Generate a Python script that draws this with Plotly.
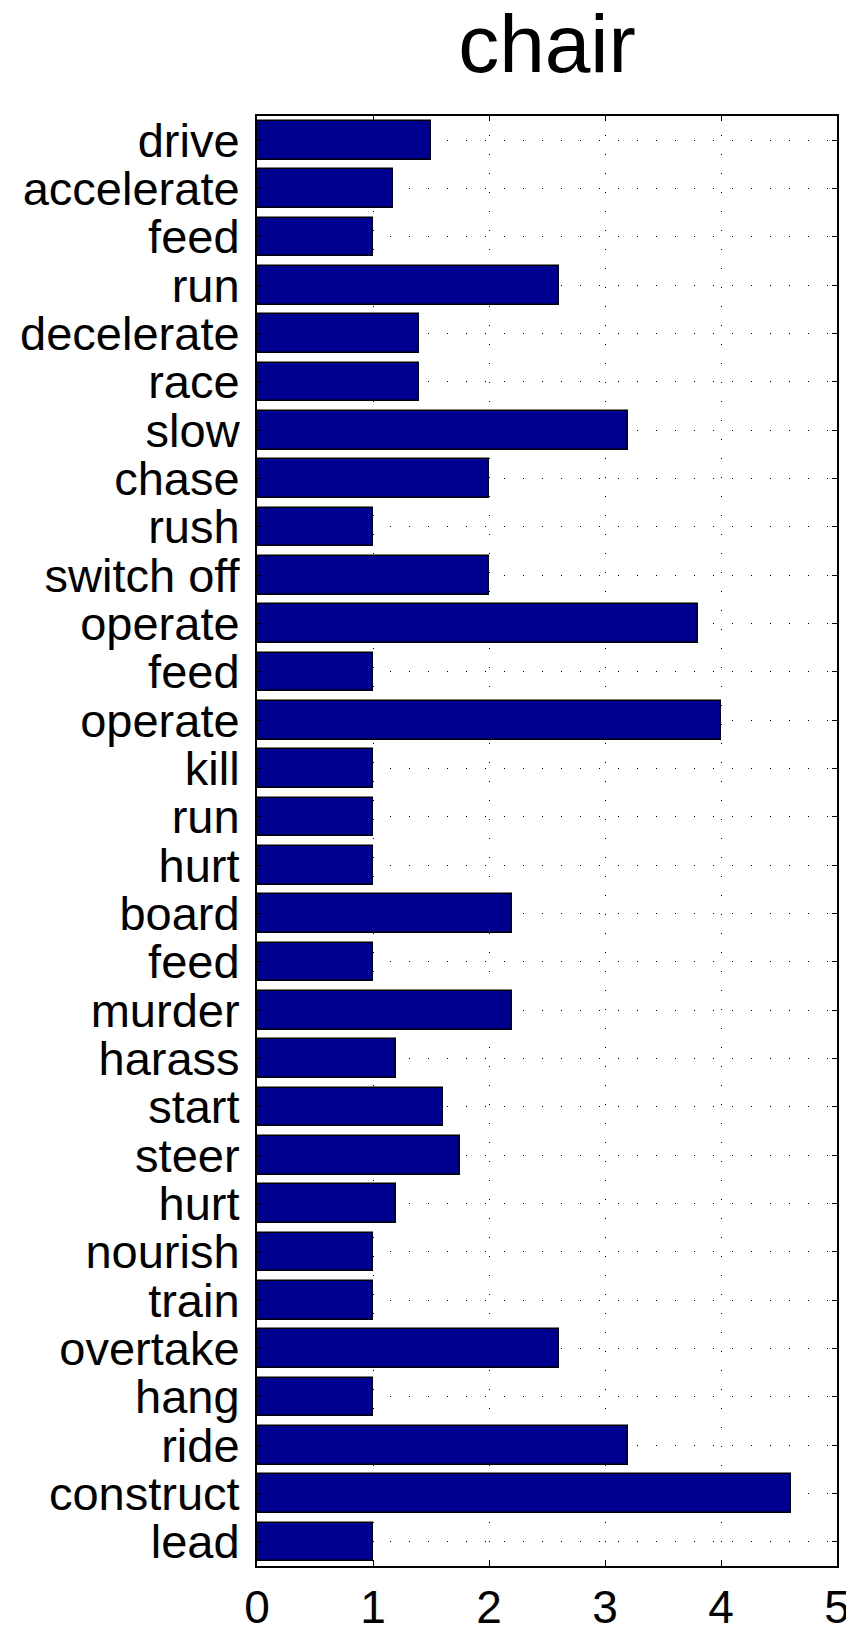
import plotly.graph_objects as go

# verbos e valores (de cima para baixo)
verbos = ['drive', 'accelerate', 'feed', 'run', 'decelerate', 'race', 'slow', 'chase',
          'rush', 'switch off', 'operate', 'feed', 'operate', 'kill', 'run', 'hurt',
          'board', 'feed', 'murder', 'harass', 'start', 'steer', 'hurt', 'nourish',
          'train', 'overtake', 'hang', 'ride', 'construct', 'lead']
valores = [1.5, 1.17, 1.0, 2.6, 1.4, 1.4, 3.2, 2.0,
           1.0, 2.0, 3.8, 1.0, 4.0, 1.0, 1.0, 1.0,
           2.2, 1.0, 2.2, 1.2, 1.6, 1.75, 1.2, 1.0,
           1.0, 2.6, 1.0, 3.2, 4.6, 1.0]
x_ticks = [0, 1, 2, 3, 4, 5]
titulo = 'chair'

posicoes = list(range(len(verbos)))

fig = go.Figure()
fig.add_trace(go.Bar(
    x=valores, y=posicoes, orientation='h', width=0.8,
    marker=dict(color='#00008F', line=dict(color='black', width=1.5)),
    showlegend=False
))

fonte = dict(family='Liberation Sans, Arial, sans-serif', color='black')
grade = dict(showgrid=True, gridcolor='black', gridwidth=1, griddash='1px,18px',
             showline=True, linecolor='black', linewidth=2, mirror='ticks',
             ticks='inside', ticklen=5, tickcolor='black', zeroline=False)

fig.update_layout(
    width=854, height=1637,
    paper_bgcolor='white', plot_bgcolor='white',
    margin=dict(l=244, r=12, t=108, b=60),
    title=dict(text=titulo, x=0.5, xref='paper', xanchor='center',
               y=1 - 64 / 1637, yanchor='bottom', font=dict(size=82, **fonte)),
    bargap=0,
)
fig.update_xaxes(range=[0, 5], tickvals=x_ticks, tickfont=dict(size=46, **fonte), **grade)
fig.update_yaxes(range=[len(verbos) - 0.5, -0.5], tickvals=posicoes, ticktext=verbos,
                 tickfont=dict(size=47, **fonte), ticklabelstandoff=6, **grade)

fig.write_html('out.html')
